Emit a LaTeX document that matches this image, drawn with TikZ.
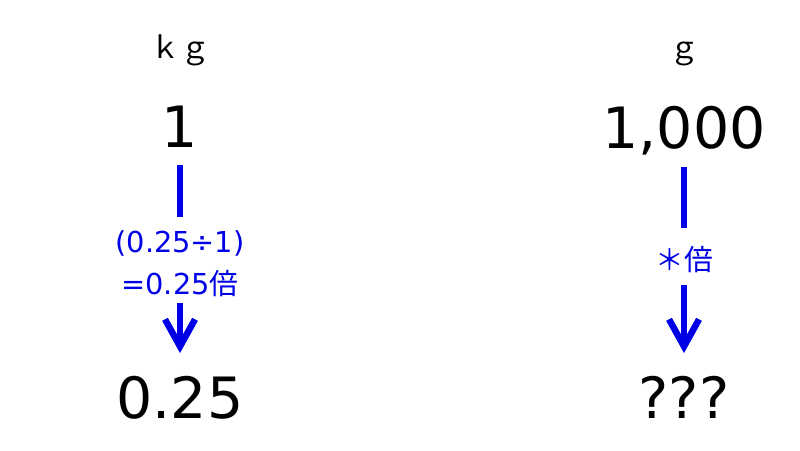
\documentclass[tikz,border=0pt]{standalone}
\usepackage{fontspec}
\setmainfont{DejaVu Sans}
\newfontfamily\jp{Noto Sans CJK JP}
\definecolor{rateblue}{RGB}{0,0,230}
\usetikzlibrary{arrows.meta}

\tikzset{
	unit/.style={inner sep=0pt,anchor=base,font=\fontsize{8.5pt}{10pt}\selectfont\jp},
	amount/.style={inner sep=0pt,anchor=base,font=\fontsize{16.2pt}{19pt}\selectfont},
	rate/.style={inner sep=0pt,align=center,text=rateblue,font=\fontsize{8.2pt}{11.9pt}\selectfont},
	bar/.style={draw=rateblue,line width=0.06cm},
	arr/.style={bar,-{Straight Barb[length=0.27cm,width=0.3cm,line width=0.065cm]}}
}

\begin{document}
\begin{tikzpicture}
	\useasboundingbox (0,0) rectangle (8,4.5);

	% The kg column
	\node[unit] (kg) at (1.80,3.92) {ｋｇ};
	\node[amount] (one) at (1.80,3.03) {1};
	\node[rate] (rateA) at (1.80,1.86) {(0.25÷1)\\=0.25{\jp 倍}};
	\node[amount] (quarter) at (1.80,0.32) {0.25};
	\draw[bar,shorten <=0.17cm,shorten >=0.13cm] (one) -- (rateA);
	\draw[arr,shorten <=0.05cm,shorten >=0.22cm] (rateA) -- (quarter);

	% The g column
	\node[unit] (g) at (6.84,3.92) {ｇ};
	\node[amount] (thousand) at (6.84,3.02) {1,000};
	\node[rate,anchor=base] (rateB) at (6.84,1.80) {{\jp ＊倍}};
	\node[amount] (unknown) at (6.84,0.32) {???};
	\draw[bar,shorten <=0.12cm,shorten >=0.17cm] (thousand) -- (rateB);
	\draw[arr,shorten <=0.12cm,shorten >=0.22cm] (rateB) -- (unknown);
\end{tikzpicture}
\end{document}
